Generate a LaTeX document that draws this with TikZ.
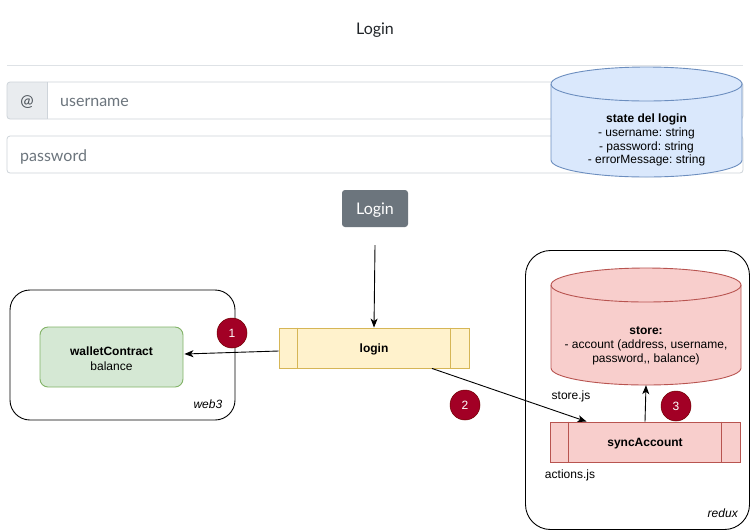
\documentclass[tikz,border=0pt]{standalone}
\usepackage{fontspec}
\setmainfont{Liberation Sans}
\newfontfamily\uifont{Lato}
\usetikzlibrary{arrows.meta,calc}
\frenchspacing
\definecolor{uidark}{HTML}{212529}
\definecolor{uiaddon}{HTML}{495057}
\definecolor{placeholder}{HTML}{6C757D}
\definecolor{inputborder}{HTML}{CED4DA}
\definecolor{addonfill}{HTML}{E9ECEF}
\definecolor{hrcol}{HTML}{DEE2E6}
\definecolor{btngray}{HTML}{6C757D}
\definecolor{yellowfill}{HTML}{FFF2CC}
\definecolor{yellowdraw}{HTML}{D6B656}
\definecolor{greenfill}{HTML}{D5E8D4}
\definecolor{greendraw}{HTML}{82B366}
\definecolor{redfill}{HTML}{F8CECC}
\definecolor{reddraw}{HTML}{B85450}
\definecolor{bluefill}{HTML}{DAE8FC}
\definecolor{bluedraw}{HTML}{6C8EBF}
\definecolor{badgered}{HTML}{A20025}
\definecolor{badgedraw}{HTML}{6F0000}
\tikzset{
  uitext/.style={font=\uifont\fontsize{16}{19}\selectfont, inner sep=0pt},
  dtext/.style={font=\fontsize{12}{13.8}\selectfont\frenchspacing, inner sep=0pt},
  procnode/.style={draw, line width=0.9pt, minimum width=190pt, minimum height=40pt, inner sep=0pt, text depth=0pt, font=\fontsize{12}{14}\selectfont\bfseries},
  container/.style={draw=black, line width=0.9pt, inner sep=0pt},
  badge/.style={circle, fill=badgered, draw=badgedraw, line width=0.5pt, minimum size=30pt, inner sep=0pt, text=white, font=\fontsize{12}{14}\selectfont},
  arr/.style={line width=0.9pt, -{Stealth[length=9pt,width=7pt,inset=2.5pt]}},
}
\begin{document}
\begin{tikzpicture}[x=1pt,y=-1pt]
\useasboundingbox (0,0) rectangle (751,531);
\fill[white] (0,0) rectangle (751,531);

% ---- form screenshot ----
\node[uitext, text=uidark] (title) at (375,30.5) {Login};
\draw[hrcol, line width=0.8pt] (7,65) -- (743,65);

\fill[addonfill] (47,82) [rounded corners=3pt] -- (7,82) -- (7,119) [sharp corners] -- (47,119) -- cycle;
\draw[inputborder, line width=0.8pt, rounded corners=3pt] (7,82) rectangle (743,119);
\draw[inputborder, line width=0.8pt] (47,82) -- (47,119);
\node[uitext, text=uiaddon] (at) at (27,102.5) {@};
\node[uitext, text=placeholder, anchor=west] (user) at (60,102.5) {username};

\draw[inputborder, line width=0.8pt, rounded corners=3pt] (7,136) rectangle (743,173);
\node[uitext, text=placeholder, anchor=west] (pass) at (20,156.5) {password};

\node[uitext, fill=btngray, rounded corners=3pt, text=white, minimum width=66pt, minimum height=37pt] (btn) at (375,208.5) {};
\node[uitext, text=white] (btnlbl) at (375,210) {Login};

% ---- state cylinder ----
\filldraw[fill=bluefill, draw=bluedraw, line width=0.9pt]
  (551,84) -- (551,160) arc[start angle=180, end angle=360, x radius=95.5pt, y radius=17pt]
  -- (742,84) arc[start angle=0, end angle=180, x radius=95.5pt, y radius=17pt] -- cycle;
\draw[bluedraw, line width=0.9pt] (551,84) arc[start angle=180, end angle=360, x radius=95.5pt, y radius=17pt];
\node[dtext, align=center] (state) at (646.5,140) {\textbf{state del login}\\- username: string\\- password: string\\- errorMessage: string};

% ---- web3 container ----
\node[container, rounded corners=20pt, minimum width=225pt, minimum height=130pt] (web3) at (122.5,355) {};
\node[dtext, font=\fontsize{12}{14}\selectfont\itshape, anchor=east] (web3lbl) at ($(web3.south east)+(-13,-16)$) {web3};
\node[fill=greenfill, draw=greendraw, line width=0.9pt, rounded corners=8pt, minimum width=143pt, minimum height=60pt, inner sep=0pt] (wallet) at (111.5,357) {};
\node[align=center, inner sep=0pt, font=\fontsize{12}{14.5}\selectfont] (wallettxt) at (111.5,358.5) {\textbf{walletContract}\\balance};

% ---- redux container ----
\node[container, rounded corners=25pt, minimum width=224pt, minimum height=279pt] (redux) at (637.5,390) {};
\node[dtext, font=\fontsize{12}{14}\selectfont\itshape, anchor=east] (reduxlbl) at ($(redux.south east)+(-12,-17)$) {redux};

\filldraw[fill=redfill, draw=reddraw, line width=0.9pt]
  (551,285) -- (551,368) arc[start angle=180, end angle=360, x radius=95pt, y radius=17pt]
  -- (741,285) arc[start angle=0, end angle=180, x radius=95pt, y radius=17pt] -- cycle;
\draw[reddraw, line width=0.9pt] (551,285) arc[start angle=180, end angle=360, x radius=95pt, y radius=17pt];
\node[minimum width=190pt, minimum height=117pt, inner sep=0pt] (store) at (646,326.5) {};
\node[dtext, align=center] (storetxt) at (646,346) {\textbf{store:}\\- account (address, username,\\password,{},{} balance)};
\node[dtext] (storejs) at (571,396.5) {store.js};

\node[procnode, fill=redfill, draw=reddraw] (sync) at (645,442) {};
\node[dtext, font=\fontsize{12}{14}\selectfont\bfseries] (synclbl) at (645,443.5) {syncAccount};
\draw[reddraw, line width=0.9pt] ($(sync.north west)+(19,0)$) -- ($(sync.south west)+(19,0)$);
\draw[reddraw, line width=0.9pt] ($(sync.north east)+(-19,0)$) -- ($(sync.south east)+(-19,0)$);
\node[dtext] (actionsjs) at (570,475.5) {actions.js};

% ---- login process ----
\node[procnode, fill=yellowfill, draw=yellowdraw] (login) at (374,348) {};
\node[dtext, font=\fontsize{12}{14}\selectfont\bfseries] (loginlbl) at (374,349.5) {login};
\draw[yellowdraw, line width=0.9pt] ($(login.north west)+(19,0)$) -- ($(login.south west)+(19,0)$);
\draw[yellowdraw, line width=0.9pt] ($(login.north east)+(-19,0)$) -- ($(login.south east)+(-19,0)$);

% ---- connectors ----
\draw[arr] ($(btn.south)+(0,18)$) -- (login.north);
\draw[arr] ($(login.west)+(0,3)$) -- ($(wallet.east)+(1,-3)$);
\draw[arr] ($(login.south)+(58,0)$) -- ($(sync.north west)+(37,0)$);
\draw[arr] (sync.north) -- (store.south);

% ---- badges ----
\node[badge] (b1) at (232,333) {1};
\node[badge] (b2) at (465,405) {2};
\node[badge] (b3) at (676,406) {3};
\end{tikzpicture}
\end{document}
